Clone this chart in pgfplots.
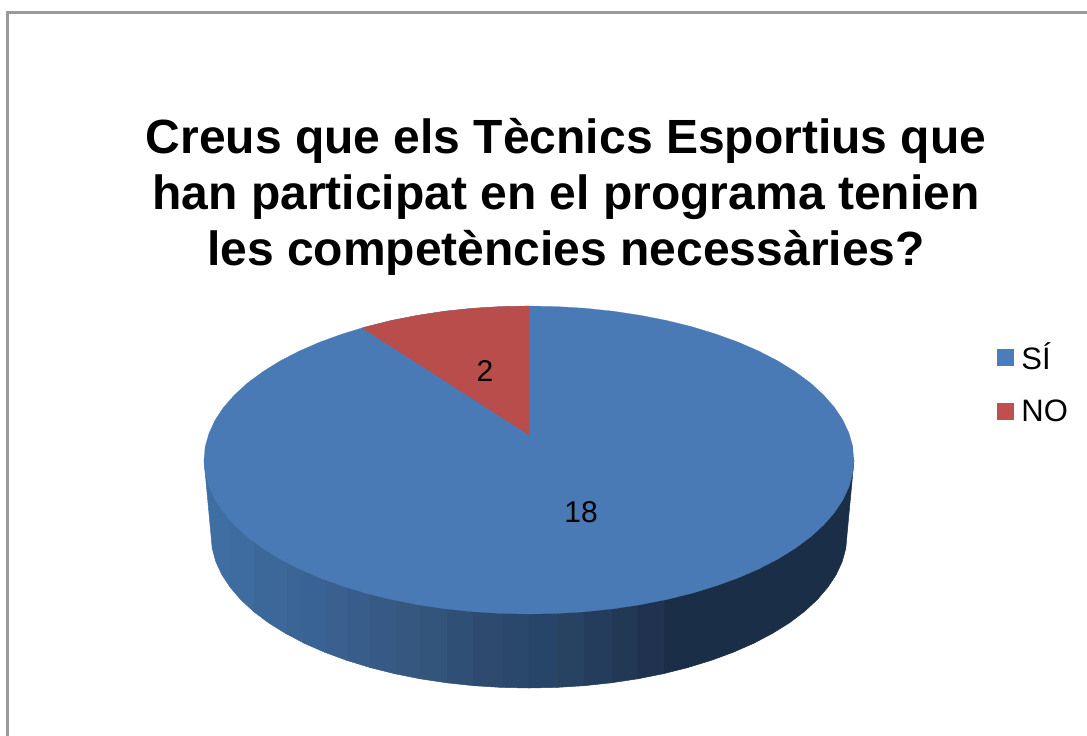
\documentclass[border=0pt]{standalone}
\usepackage{pgfplots}
\pgfplotsset{compat=1.18}
\usepackage{fontspec}
\setmainfont{Liberation Sans}
\definecolor{topblue}{HTML}{4A7AB6}
\definecolor{topred}{HTML}{B94D4B}
\definecolor{legblue}{HTML}{4A7EBB}
\definecolor{legred}{HTML}{C0504D}
\definecolor{framegray}{HTML}{9A9A9A}
\definecolor{sa}{HTML}{3F6EA3}
\definecolor{sb}{HTML}{3E6BA0}
\definecolor{sc}{HTML}{3C6899}
\definecolor{sd}{HTML}{3A6595}
\definecolor{se}{HTML}{396394}
\definecolor{sf}{HTML}{3A6090}
\definecolor{sg}{HTML}{385D8B}
\definecolor{sh}{HTML}{375985}
\definecolor{si}{HTML}{355780}
\definecolor{sj}{HTML}{33547B}
\definecolor{sk}{HTML}{304F74}
\definecolor{sl}{HTML}{2E4B6F}
\definecolor{sm}{HTML}{29486C}
\definecolor{sn}{HTML}{274568}
\definecolor{so}{HTML}{284261}
\definecolor{sp}{HTML}{253D5C}
\definecolor{sq}{HTML}{213955}
\definecolor{sr}{HTML}{213150}
\definecolor{ss}{HTML}{1A2F47}
\newcommand\strip[2]{\addplot[forget plot,fill=#1,draw=#1,line width=.5pt] coordinates {#2};}
\begin{document}
\begin{tikzpicture}
\begin{axis}[
  width=1087pt,height=736pt,scale only axis,
  xmin=0,xmax=1087,ymin=0,ymax=736,y dir=reverse,
  axis lines=none,clip=true,
  legend style={at={(axis cs:997,341)},anchor=north west,draw=none,fill=none,
    font=\fontsize{31}{34}\selectfont,row sep=24pt,
    inner sep=0pt,outer sep=0pt},
  legend cell align=left,
]
\addlegendimage{legend image code/.code={\fill[legblue] (0pt,-8pt) rectangle (16pt,8pt);\path (22pt,0pt);}}
\addlegendentry{SÍ}
\addlegendimage{legend image code/.code={\fill[legred] (0pt,-8pt) rectangle (16pt,8pt);\path (22pt,0pt);}}
\addlegendentry{NO}
% page extent
\addplot[forget plot,draw=none] coordinates {(0,0) (1087,736)};
% frame
\addplot[forget plot,draw=framegray,line width=3pt] coordinates {(7,736) (7,12) (1087,12)};
% side of the pie, in vertical bands
\strip{sa}{(204,460) (211,535) (212.2,548.3) (215.8,561.6) (221.8,574.6) (230.2,587.3) (230.2,460)}
\strip{sb}{(230.2,460) (230.2,587.3) (240.8,599.7) (253.6,611.5) (253.6,460)}
\strip{sc}{(253.6,460) (253.6,611.5) (268.5,622.8) (285.4,633.3) (285.4,460)}
\strip{sd}{(285.4,460) (285.4,633.3) (304.1,643.2) (304.1,460)}
\strip{se}{(304.1,460) (304.1,643.2) (324.6,652.2) (324.6,460)}
\strip{sf}{(324.6,460) (324.6,652.2) (346.6,660.3) (346.6,460)}
\strip{sg}{(346.6,460) (346.6,660.3) (370,667.5) (370,460)}
\strip{sh}{(370,460) (370,667.5) (394.6,673.7) (394.6,460)}
\strip{si}{(394.6,460) (394.6,673.7) (420.2,678.8) (420.2,460)}
\strip{sj}{(420.2,460) (420.2,678.8) (446.7,682.8) (446.7,460)}
\strip{sk}{(446.7,460) (446.7,682.8) (473.8,685.7) (473.8,460)}
\strip{sl}{(473.8,460) (473.8,685.7) (501.3,687.4) (501.3,460)}
\strip{sm}{(501.3,460) (501.3,687.4) (529,688) (529,460)}
\strip{sn}{(529,460) (529,688) (556.7,687.4) (556.7,460)}
\strip{so}{(556.7,460) (556.7,687.4) (584.2,685.7) (584.2,460)}
\strip{sp}{(584.2,460) (584.2,685.7) (611.3,682.8) (611.3,460)}
\strip{sq}{(611.3,460) (611.3,682.8) (637.8,678.8) (637.8,460)}
\strip{sr}{(637.8,460) (637.8,678.8) (663.4,673.7) (663.4,460)}
\strip{ss}{(663.4,460) (663.4,673.7) (688,667.5) (711.4,660.3) (733.4,652.2) (753.9,643.2) (772.6,633.3) (789.5,622.8) (804.4,611.5) (817.2,599.7) (827.8,587.3) (836.2,574.6) (842.2,561.6) (845.8,548.3) (847,535) (854,460)}
% top face
\addplot[forget plot,fill=topblue,draw=topblue,line width=.2pt] coordinates {
(854,460) (852.8,473.4) (849,486.7) (842.9,499.9) (834.4,512.7) (823.5,525.1) (810.5,537) (795.2,548.3) (778,559) (758.8,568.9) (737.9,578) (715.4,586.1) (691.5,593.4) (666.3,599.6) (640.2,604.7) (613.1,608.8) (585.4,611.7) (557.3,613.4) (529,614) (500.7,613.4) (472.6,611.7) (444.9,608.8) (417.8,604.7) (391.7,599.6) (366.5,593.4) (342.6,586.1) (320.1,578) (299.2,568.9) (280,559) (262.8,548.3) (247.5,537) (234.5,525.1) (223.6,512.7) (215.1,499.9) (209,486.7) (205.2,473.4) (204,460)
(205.2,446.6) (209,433.3) (215.1,420.1) (223.6,407.3) (234.5,394.9) (247.5,383) (262.8,371.7) (280,361) (299.2,351.1) (320.1,342) (342.6,333.9) (366.5,326.6) (391.7,320.4) (417.8,315.3) (444.9,311.2) (472.6,308.3) (500.7,306.6) (529,306) (557.3,306.6) (585.4,308.3) (613.1,311.2) (640.2,315.3) (666.3,320.4) (691.5,326.6) (715.4,333.9) (737.9,342) (758.8,351.1) (778,361) (795.2,371.7) (810.5,383) (823.5,394.9) (834.4,407.3) (842.9,420.1) (849,433.3) (852.8,446.6)};
% NO slice
\addplot[forget plot,fill=topred,draw=topred,line width=.2pt] coordinates {
(529,435) (529,306) (500.7,306.6) (472.6,308.3) (444.9,311.2) (417.8,315.3) (391.7,320.4) (362,328)};
\node[font=\bfseries\fontsize{48}{56}\selectfont,align=center,inner sep=0pt] at (axis cs:566,197)
 {Creus que els Tècnics Esportius que\\han participat en el programa tenien\\les competències necessàries?};
\node[font=\fontsize{30}{32}\selectfont,inner sep=0pt] at (axis cs:485,371) {2};
\node[font=\fontsize{30}{32}\selectfont,inner sep=0pt] at (axis cs:581,512) {18};
\end{axis}
\end{tikzpicture}
\end{document}
